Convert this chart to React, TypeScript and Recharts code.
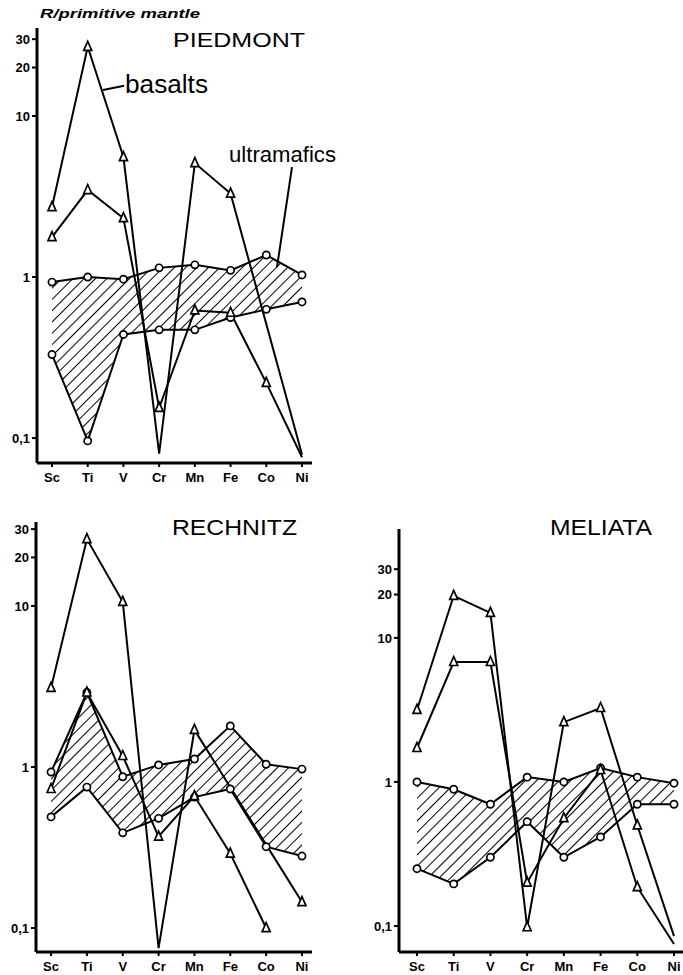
import React from "react";
import { ComposedChart, Line, Area, XAxis, YAxis, ReferenceLine } from "recharts";

const ELEMENTS = ["Sc", "Ti", "V", "Cr", "Mn", "Fe", "Co", "Ni"];
const Y_TICKS = [0.1, 1, 10, 20, 30];
const X_TICKS = [1, 2, 3, 4, 5, 6, 7, 8];

// PIEDMONT (values normalised to primitive mantle)
const PIE_BASALT_A = [2.72, 26.9, 5.56, 0.08, 5.1, 3.3, null, 0.079];
const PIE_BASALT_B = [1.77, 3.47, 2.32, 0.154, 0.62, 0.6, 0.22, 0.076];
const PIE_ULTRA_HI = [0.93, 1.0, 0.97, 1.14, 1.19, 1.1, 1.37, 1.03];
const PIE_ULTRA_LO = [0.33, 0.096, 0.44, 0.47, 0.47, 0.56, 0.63, 0.7];

// RECHNITZ
const REC_BASALT_A = [3.1, 26, 10.6, 0.075, 1.7, null, null, 0.145];
const REC_BASALT_B = [0.73, 2.9, 1.17, 0.37, 0.66, 0.29, 0.1, null];
const REC_ULTRA_HI = [0.93, 2.9, 0.87, 1.03, 1.12, 1.8, 1.04, 0.97];
const REC_ULTRA_LO = [0.49, 0.75, 0.39, 0.48, 0.65, 0.73, 0.32, 0.28];

// MELIATA
const MEL_BASALT_A = [3.16, 19.6, 14.9, 0.098, 2.6, 3.26, 0.5, 0.085];
const MEL_BASALT_B = [1.72, 6.8, 6.8, 0.2, 0.56, 1.21, 0.186, 0.075];
const MEL_ULTRA_HI = [1.0, 0.89, 0.7, 1.08, 1.0, 1.25, 1.08, 0.98];
const MEL_ULTRA_LO = [0.25, 0.196, 0.3, 0.53, 0.3, 0.415, 0.7, 0.7];

// leader lines of the labels (element index, R value)
const BASALT_POINTER = [{ x: 2.43, y: 14.5 }, { x: 3.02, y: 15.4 }];
const ULTRA_POINTER = [{ x: 7.72, y: 4.82 }, { x: 7.3, y: 1.15 }];

const FONT = "'Liberation Sans', Arial, sans-serif";

function rows(a: any[], b: any[], hi: number[], lo: number[]) {
  return ELEMENTS.map((el, k) => ({
    i: k + 1,
    el,
    a: a[k],
    b: b[k],
    hi: hi[k],
    lo: lo[k],
    band: [lo[k], hi[k]],
  }));
}

const triangleDot = (props: any) => {
  const { cx, cy, value, index } = props;
  if (cx == null || cy == null || value == null || value < 0.09) return <g key={index} />;
  return (
    <path
      key={index}
      d={`M${cx},${cy - 5.5} L${cx + 4},${cy + 3.5} L${cx - 4},${cy + 3.5} Z`}
      fill="#fff"
      stroke="#000"
      strokeWidth={1.7}
    />
  );
};

const circleDot = (props: any) => {
  const { cx, cy, value, index } = props;
  if (cx == null || cy == null || value == null) return <g key={index} />;
  return <circle key={index} cx={cx} cy={cy} r={3.6} fill="#fff" stroke="#000" strokeWidth={1.7} />;
};

const fmtY = (v: number) => (v === 0.1 ? "0,1" : String(v));

interface PanelProps {
  data: any[];
  width: number;
  height: number;
  margin: { top: number; right: number; bottom: number; left: number };
  xDomain: [number, number];
  yDomain: [number, number];
  pointers?: boolean;
}

function Panel({ data, width, height, margin, xDomain, yDomain, pointers }: PanelProps) {
  return (
    <ComposedChart width={width} height={height} data={data} margin={margin}>
      <XAxis
        type="number"
        dataKey="i"
        domain={xDomain}
        allowDataOverflow
        ticks={X_TICKS}
        interval={0}
        tickFormatter={(v: number) => ELEMENTS[v - 1]}
        axisLine={{ stroke: "#000", strokeWidth: 3 }}
        tickLine={{ stroke: "#000", strokeWidth: 2 }}
        tickSize={4}
        tickMargin={6}
        height={20}
        tick={{ fill: "#000", fontSize: 13, fontWeight: 700, fontFamily: FONT }}
      />
      <YAxis
        scale="log"
        domain={yDomain}
        allowDataOverflow
        ticks={Y_TICKS}
        interval={0}
        tickFormatter={fmtY}
        axisLine={{ stroke: "#000", strokeWidth: 3 }}
        tickLine={{ stroke: "#000", strokeWidth: 2 }}
        tickSize={5}
        width={32}
        tick={{ fill: "#000", fontSize: 13, fontWeight: 700, fontFamily: FONT }}
      />
      <Area
        dataKey="band"
        fill="url(#hatch)"
        fillOpacity={1}
        stroke="none"
        isAnimationActive={false}
      />
      <Line dataKey="hi" stroke="#000" strokeWidth={2} dot={circleDot} isAnimationActive={false} />
      <Line dataKey="lo" stroke="#000" strokeWidth={2} dot={circleDot} isAnimationActive={false} />
      <Line dataKey="a" stroke="#000" strokeWidth={2} dot={triangleDot} connectNulls isAnimationActive={false} />
      <Line dataKey="b" stroke="#000" strokeWidth={2} dot={triangleDot} connectNulls isAnimationActive={false} />
      {pointers && (
        <ReferenceLine segment={BASALT_POINTER} stroke="#000" strokeWidth={2} ifOverflow="visible" />
      )}
      {pointers && (
        <ReferenceLine segment={ULTRA_POINTER} stroke="#000" strokeWidth={2} ifOverflow="visible" />
      )}
    </ComposedChart>
  );
}

export default function App() {
  const titleStyle = { fontFamily: FONT, fill: "#000" };
  return (
    <div style={{ position: "absolute", left: 0, top: 0, width: 683, height: 975, background: "#fff" }}>
      <svg width={0} height={0} style={{ position: "absolute" }}>
        <defs>
          <pattern id="hatch" patternUnits="userSpaceOnUse" width={8} height={8} patternTransform="rotate(45)">
            <line x1={0} y1={0} x2={0} y2={8} stroke="#000" strokeWidth={2} />
          </pattern>
        </defs>
      </svg>

      <div style={{ position: "absolute", left: 0, top: 0 }}>
        <Panel
          data={rows(PIE_BASALT_A, PIE_BASALT_B, PIE_ULTRA_HI, PIE_ULTRA_LO)}
          width={340}
          height={490}
          margin={{ top: 28, right: 28, bottom: 7, left: 5 }}
          xDomain={[0.58, 8.28]}
          yDomain={[0.07, 35.2]}
          pointers
        />
      </div>
      <div style={{ position: "absolute", left: 0, top: 490 }}>
        <Panel
          data={rows(REC_BASALT_A, REC_BASALT_B, REC_ULTRA_HI, REC_ULTRA_LO)}
          width={340}
          height={485}
          margin={{ top: 32, right: 28, bottom: 3, left: 4 }}
          xDomain={[0.58, 8.28]}
          yDomain={[0.071, 33.2]}
        />
      </div>
      <div style={{ position: "absolute", left: 340, top: 490 }}>
        <Panel
          data={rows(MEL_BASALT_A, MEL_BASALT_B, MEL_ULTRA_HI, MEL_ULTRA_LO)}
          width={343}
          height={485}
          margin={{ top: 39, right: 0, bottom: 3, left: 27 }}
          xDomain={[0.51, 8.245]}
          yDomain={[0.066, 57]}
        />
      </div>

      <svg
        width={683}
        height={975}
        style={{ position: "absolute", left: 0, top: 0, pointerEvents: "none" }}
      >
        <text x={40} y={18} fontSize={13} fontWeight={700} fontStyle="italic" textLength={160} lengthAdjust="spacingAndGlyphs" style={titleStyle}>
          R/primitive mantle
        </text>
        <text x={173} y={47} fontSize={21} textLength={132} lengthAdjust="spacingAndGlyphs" style={titleStyle}>
          PIEDMONT
        </text>
        <text x={125} y={93} fontSize={25} textLength={83} lengthAdjust="spacingAndGlyphs" style={titleStyle}>
          basalts
        </text>
        <text x={229} y={162} fontSize={22} textLength={107} lengthAdjust="spacingAndGlyphs" style={titleStyle}>
          ultramafics
        </text>
        <text x={172} y={535} fontSize={22} textLength={125} lengthAdjust="spacingAndGlyphs" style={titleStyle}>
          RECHNITZ
        </text>
        <text x={550} y={535} fontSize={22} textLength={102} lengthAdjust="spacingAndGlyphs" style={titleStyle}>
          MELIATA
        </text>
      </svg>
    </div>
  );
}
